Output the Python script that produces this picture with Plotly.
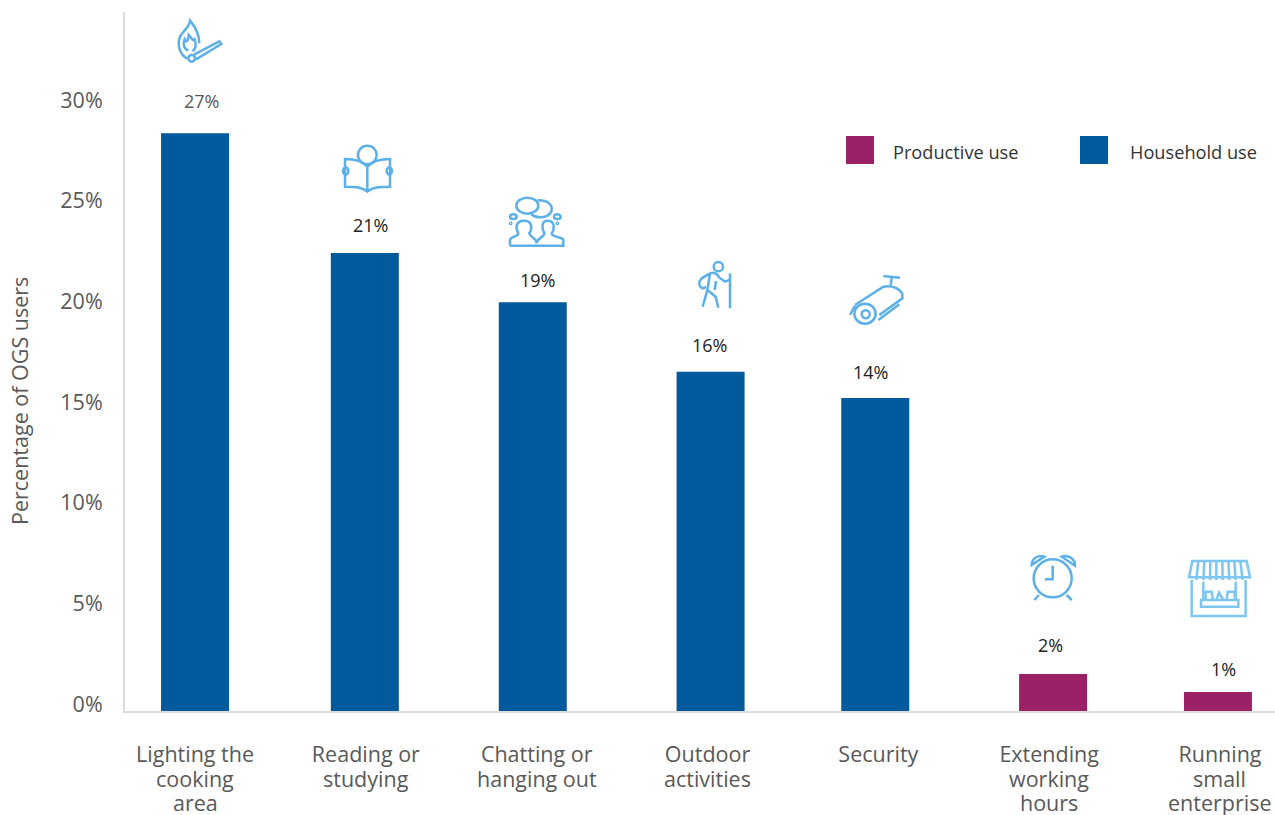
import re
import plotly.graph_objects as go

W, H = 1275, 815
L, R, T, B = 125, 0, 12, 104

categories = ["Lighting the", "Reading or", "Chatting or", "Outdoor", "Security", "Extending", "Running"]
tick_more_lines = [["cooking", "area"], ["studying"], ["hanging out"], ["activities"], [], ["working", "hours"],
                   ["small", "enterprise"]]
household_values = [28.7, 22.75, 20.3, 16.85, 15.55, None, None]
productive_values = [None, None, None, None, None, 1.84, 0.94]
label_values = ["27%", "21%", "19%", "16%", "14%", "2%", "1%"]
y_ticks = [0, 5, 10, 15, 20, 25, 30]
y_tick_text = ["0%", "5%", "10%", "15%", "20%", "25%", "30%"]

BLUE, PURPLE, ICON, GREY = "#005A9C", "#9B2066", "#5CB0EA", "#595959"
BAR_W = 0.398
bar_shift = [0, -0.006, -0.023, 0.018, -0.018, 0.023, -0.012]
label_px = [(201, 101), (370, 225), (537, 280), (710, 345), (870, 372), (1050, 645), (1223, 669)]
CAT_X0, CAT_STEP = 195, 170.83
LINE_Y0, LINE_STEP = 754.5, 24.2
SW = 2.5


def X(px):
    return (px - L) / (W - L - R)


def Y(py):
    return 1 - (py - T) / (H - T - B)


def icon_path(ox, oy, d, color=ICON, width=SW):
    toks = re.findall(r"[A-Za-z]|-?\d+\.?\d*", d)
    out, is_x = [], True
    for t in toks:
        if t.isalpha():
            out.append(t)
            is_x = True
        else:
            v = float(t) / 3
            out.append(f"{X(ox + v):.5f}" if is_x else f"{Y(oy + v):.5f}")
            is_x = not is_x
    return dict(type="path", xref="paper", yref="paper", path=" ".join(out),
                line=dict(color=color, width=width), layer="above")


def icon_oval(ox, oy, cx, cy, rx, ry=None, color=ICON, width=SW):
    ry = rx if ry is None else ry
    return dict(type="circle", xref="paper", yref="paper",
                x0=X(ox + (cx - rx) / 3), x1=X(ox + (cx + rx) / 3),
                y0=Y(oy + (cy + ry) / 3), y1=Y(oy + (cy - ry) / 3),
                line=dict(color=color, width=width), layer="above")


shapes = []
# flame and match
o = (160, 10)
shapes += [
    icon_path(*o, "M 82 146 C 60 135 50 105 60 80 C 68 62 88 55 90 32 C 105 50 118 70 118 100"),
    icon_path(*o, "M 85 122 C 70 115 68 100 74 88 C 78 100 84 95 86 75 C 96 85 98 95 104 88 C 110 105 105 118 98 124"),
    icon_oval(*o, 95, 145, 10),
    icon_path(*o, "M 102 134 L 178 94 L 184 102 L 108 148"),
]
# person reading
o = (330, 135)
shapes += [
    icon_oval(*o, 112, 60, 28),
    icon_path(*o, "M 112 95 C 95 75 70 72 45 72 L 45 155 C 70 155 95 155 112 170 C 130 155 155 155 180 155 L 180 72 C 155 72 130 75 112 95 L 112 170"),
    icon_oval(*o, 47, 108, 8, 11),
    icon_oval(*o, 178, 108, 8, 11),
]
# people chatting
o = (495, 185)
shapes += [
    icon_oval(*o, 97, 62, 33, 24),
    icon_path(*o, "M 128 46 C 160 45 172 60 170 75 C 168 90 150 97 135 97 C 125 97 115 93 108 87"),
    icon_oval(*o, 55, 95, 10, 7),
    icon_oval(*o, 187, 95, 10, 7),
    icon_oval(*o, 47, 115, 2),
    icon_oval(*o, 187, 115, 2),
    icon_path(*o, "M 45 182 L 45 165 C 45 155 70 155 70 145 C 62 130 60 107 88 107 C 115 107 110 135 103 145 C 105 158 125 158 125 175"),
    icon_path(*o, "M 125 175 C 125 158 148 158 148 145 C 140 130 138 107 158 107 C 182 107 178 135 170 145 C 170 158 205 155 205 165 L 205 182 L 45 182"),
]
# hiker
o = (680, 255)
shapes += [
    icon_oval(*o, 115, 35, 14),
    icon_path(*o, "M 150 55 L 150 160"),
    icon_path(*o, "M 90 55 L 65 70 C 55 80 55 95 68 100 L 78 96"),
    icon_path(*o, "M 90 55 C 100 50 112 55 118 68 L 135 80 L 150 74"),
    icon_path(*o, "M 90 55 L 82 105 L 107 125 L 115 158"),
    icon_path(*o, "M 82 105 L 68 155"),
    icon_path(*o, "M 108 78 L 104 105"),
]
# camera
o = (840, 265)
shapes += [
    icon_path(*o, "M 130 33 L 180 38"),
    icon_path(*o, "M 155 38 L 152 62"),
    icon_path(*o, "M 45 120 L 130 65 C 155 60 180 70 187 88 L 187 100 L 118 150"),
    icon_path(*o, "M 115 165 L 178 118"),
    icon_path(*o, "M 30 150 L 45 122"),
    icon_oval(*o, 75, 146, 32, 30),
    icon_oval(*o, 77, 148, 12),
]
# alarm clock
o = (1015, 545)
shapes += [
    icon_oval(*o, 113, 100, 57),
    icon_path(*o, "M 113 62 L 113 103 L 90 103"),
    icon_path(*o, "M 50 60 C 50 40 70 28 88 35 Z"),
    icon_path(*o, "M 140 35 C 160 28 180 42 180 62 Z"),
    icon_path(*o, "M 72 150 L 58 165"),
    icon_path(*o, "M 155 150 L 170 165"),
]
# market stall
o = (1175, 550)
SHOP = "#7CC6F2"
shapes += [
    icon_path(*o, "M 52 33 L 215 33 L 225 82 L 42 82 Z", SHOP),
    icon_path(*o, "M 70 33 L 64 90 M 88 33 L 85 90 M 106 33 L 105 90 M 124 33 L 124 90 M 142 33 L 143 90 M 160 33 L 163 90 M 178 33 L 182 90 M 196 33 L 203 90", SHOP),
    icon_path(*o, "M 50 90 L 50 198 L 212 198 L 212 90", SHOP),
    icon_path(*o, "M 78 150 L 190 150 L 190 170 L 78 170 Z", SHOP),
    icon_path(*o, "M 85 95 L 85 150 M 182 95 L 182 150", SHOP),
    icon_path(*o, "M 92 150 L 92 125 L 110 125 L 114 150 M 124 150 L 132 128 L 145 150 M 155 150 L 158 125 L 178 125 L 180 150", SHOP),
]

# legend swatches
legend_items = [("Productive use", PURPLE, 846, 891), ("Household use", BLUE, 1080, 1128)]
annotations = []
for name, col, sx, tx in legend_items:
    shapes.append(dict(type="rect", xref="paper", yref="paper", x0=X(sx), x1=X(sx + 28), y0=Y(164), y1=Y(136),
                       fillcolor=col, line=dict(width=0)))
    annotations.append(dict(xref="paper", yref="paper", x=X(tx), y=Y(152), text=name, showarrow=False,
                            xanchor="left", yanchor="middle", font=dict(size=18.2, color="#333333")))

for i, (txt, (lx, ly)) in enumerate(zip(label_values, label_px)):
    annotations.append(dict(xref="paper", yref="paper", x=X(lx), y=Y(ly), text=txt, showarrow=False,
                            xanchor="center", yanchor="middle",
                            font=dict(size=18, color=GREY if i == 0 else "#222222")))

for i, lines in enumerate(tick_more_lines):
    for k, line in enumerate(lines, start=1):
        annotations.append(dict(xref="paper", yref="paper", x=X(CAT_X0 + i * CAT_STEP), y=Y(LINE_Y0 + k * LINE_STEP),
                                text=line, showarrow=False, xanchor="center", yanchor="middle",
                                font=dict(size=21.5, color=GREY)))

annotations.append(dict(xref="paper", yref="paper", x=X(19), y=Y(401), text="Percentage of OGS users",
                        textangle=-90, showarrow=False, xanchor="center", yanchor="middle",
                        font=dict(size=21.5, color=GREY)))

fig = go.Figure()
fig.add_bar(x=categories, y=household_values, marker_color=BLUE, marker_line_width=0, width=BAR_W,
            offset=[s - BAR_W / 2 for s in bar_shift], showlegend=False)
fig.add_bar(x=categories, y=productive_values, marker_color=PURPLE, marker_line_width=0, width=BAR_W,
            offset=[s - BAR_W / 2 for s in bar_shift], showlegend=False)

fig.update_layout(
    width=W, height=H, margin=dict(l=L, r=R, t=T, b=B, autoexpand=False),
    paper_bgcolor="white", plot_bgcolor="white", barmode="overlay",
    font=dict(family="Open Sans", color=GREY), shapes=shapes, annotations=annotations,
)
fig.update_xaxes(type="category", categoryorder="array", categoryarray=categories, tickmode="array",
                 tickvals=categories, ticktext=categories, range=[-0.41, 6.322], showgrid=False,
                 showline=True, linecolor="#DDDDDD", linewidth=2, ticks="", ticklabelstandoff=23,
                 tickfont=dict(size=21.5, color=GREY), zeroline=False)
fig.update_yaxes(range=[0, 34.72], tickmode="array", tickvals=y_ticks, ticktext=y_tick_text, showgrid=False,
                 showline=True, linecolor="#DDDDDD", linewidth=2, ticks="", ticklabelstandoff=16,
                 ticklabelshift=-7, tickfont=dict(size=21.5, color=GREY), zeroline=False)

fig.write_html("out.html", config=dict(displayModeBar=False),
               post_script="document.body.style.margin='0';document.documentElement.style.overflow='hidden';")
